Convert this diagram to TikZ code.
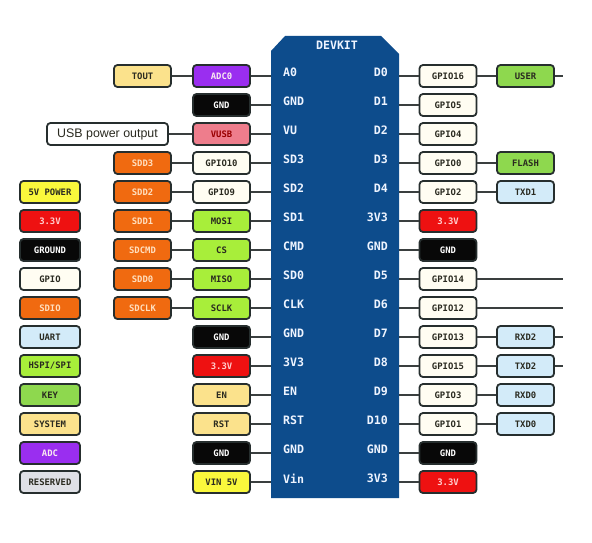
\documentclass[tikz,border=0pt]{standalone}
\usepackage{fontspec}
\newfontfamily\monof{DejaVu Sans Mono}
\newfontfamily\arialf{Liberation Sans}
\definecolor{boardc}{RGB}{13,76,140}
\definecolor{edgec}{HTML}{262E2E}
\definecolor{wirec}{HTML}{3A3F3F}
\definecolor{creamc}{HTML}{FFFDF2}
\definecolor{limec}{HTML}{A8EE3A}
\definecolor{greenc}{HTML}{8ED84E}
\definecolor{bluec}{HTML}{D3EBF9}
\definecolor{sysc}{HTML}{FBE28C}
\definecolor{vinc}{HTML}{FAF83C}
\definecolor{redc}{HTML}{EE1111}
\definecolor{orangec}{HTML}{F06A10}
\definecolor{purplec}{HTML}{9A2EF0}
\definecolor{pinkc}{HTML}{EE7D8C}
\definecolor{grayc}{HTML}{DFE0E6}
\definecolor{blackc}{HTML}{080808}
\definecolor{darkt}{HTML}{2A2A20}
\definecolor{pintext}{HTML}{EEF4FF}
\tikzset{
  box/.style={draw=edgec, line width=1.8pt, rounded corners=3.5pt, minimum width=57pt,
    minimum height=22pt, inner sep=0pt, text=darkt, font=\monof\bfseries\fontsize{8.9}{10}\selectfont},
  pgpio/.style={box, fill=creamc},
  pspi/.style={box, fill=limec},
  pkey/.style={box, fill=greenc},
  puart/.style={box, fill=bluec},
  psys/.style={box, fill=sysc},
  pvin/.style={box, fill=vinc},
  p33/.style={box, fill=redc, text=red!20},
  psdio/.style={box, fill=orangec, text=orange!25},
  padc/.style={box, fill=purplec, text=purple!8},
  pgnd/.style={box, fill=blackc, text=white},
  pusb/.style={box, fill=pinkc, text=red!60!black},
  pres/.style={box, fill=grayc},
  pinlab/.style={text=pintext, inner sep=0pt, font=\monof\bfseries\fontsize{11.6}{13}\selectfont},
  wire/.style={draw=wirec, line width=1.3pt}
}
\begin{document}
\begin{tikzpicture}[x=1pt,y=-1pt]
\useasboundingbox[fill=white] (0,0) rectangle (592,543);
% board
\fill[boardc] (271,51) -- (285,36) -- (381,36) -- (399,54) -- (399,498) -- (271,498) -- cycle;
\node[pinlab] (devkit) at (337,45) {DEVKIT};
\coordinate (bL) at (271,0);
\coordinate (bR) at (399,0);
% board pin labels left
\node[pinlab, anchor=west] (pA0) at (283,72.5) {A0};
\node[pinlab, anchor=west] (pGND1) at (283,101.5) {GND};
\node[pinlab, anchor=west] (pVU) at (283,130.5) {VU};
\node[pinlab, anchor=west] (pSD3) at (283,159.5) {SD3};
\node[pinlab, anchor=west] (pSD2) at (283,188.5) {SD2};
\node[pinlab, anchor=west] (pSD1) at (283,217.5) {SD1};
\node[pinlab, anchor=west] (pCMD) at (283,246.5) {CMD};
\node[pinlab, anchor=west] (pSD0) at (283,275.5) {SD0};
\node[pinlab, anchor=west] (pCLK) at (283,304.5) {CLK};
\node[pinlab, anchor=west] (pGND2) at (283,333.5) {GND};
\node[pinlab, anchor=west] (p3V3a) at (283,362.5) {3V3};
\node[pinlab, anchor=west] (pEN) at (283,391.5) {EN};
\node[pinlab, anchor=west] (pRST) at (283,420.5) {RST};
\node[pinlab, anchor=west] (pGND3) at (283,449.5) {GND};
\node[pinlab, anchor=west] (pVin) at (283,478.5) {Vin};
% board pin labels right
\node[pinlab, anchor=east] (pD0) at (388,72.5) {D0};
\node[pinlab, anchor=east] (pD1) at (388,101.5) {D1};
\node[pinlab, anchor=east] (pD2) at (388,130.5) {D2};
\node[pinlab, anchor=east] (pD3) at (388,159.5) {D3};
\node[pinlab, anchor=east] (pD4) at (388,188.5) {D4};
\node[pinlab, anchor=east] (p3V3b) at (388,217.5) {3V3};
\node[pinlab, anchor=east] (pGND4) at (388,246.5) {GND};
\node[pinlab, anchor=east] (pD5) at (388,275.5) {D5};
\node[pinlab, anchor=east] (pD6) at (388,304.5) {D6};
\node[pinlab, anchor=east] (pD7) at (388,333.5) {D7};
\node[pinlab, anchor=east] (pD8) at (388,362.5) {D8};
\node[pinlab, anchor=east] (pD9) at (388,391.5) {D9};
\node[pinlab, anchor=east] (pD10) at (388,420.5) {D10};
\node[pinlab, anchor=east] (pGND5) at (388,449.5) {GND};
\node[pinlab, anchor=east] (p3V3c) at (388,478.5) {3V3};
% inner left column
\node[padc] (iA0) at (221.5,76) {ADC0};
\node[pgnd] (iGND1) at (221.5,105) {GND};
\node[pusb] (iVU) at (221.5,134) {VUSB};
\node[pgpio] (iSD3) at (221.5,163) {GPIO10};
\node[pgpio] (iSD2) at (221.5,192) {GPIO9};
\node[pspi] (iSD1) at (221.5,221) {MOSI};
\node[pspi] (iCMD) at (221.5,250) {CS};
\node[pspi] (iSD0) at (221.5,279) {MISO};
\node[pspi] (iCLK) at (221.5,308) {SCLK};
\node[pgnd] (iGND2) at (221.5,337) {GND};
\node[p33] (i3V3) at (221.5,366) {3.3V};
\node[psys] (iEN) at (221.5,395) {EN};
\node[psys] (iRST) at (221.5,424) {RST};
\node[pgnd] (iGND3) at (221.5,453) {GND};
\node[pvin] (iVin) at (221.5,482) {VIN 5V};
% outer left column
\node[psys] (oA0) at (142.5,76) {TOUT};
\node[box, fill=white, minimum width=121pt, font=\arialf\fontsize{12.4}{14}\selectfont] (oVU) at (107.5,134) {USB power output};
\node[psdio] (oSD3) at (142.5,163) {SDD3};
\node[psdio] (oSD2) at (142.5,192) {SDD2};
\node[psdio] (oSD1) at (142.5,221) {SDD1};
\node[psdio] (oCMD) at (142.5,250) {SDCMD};
\node[psdio] (oSD0) at (142.5,279) {SDD0};
\node[psdio] (oCLK) at (142.5,308) {SDCLK};
% legend
\node[box, fill=vinc, minimum width=60pt] (l5v) at (50,192) {5V POWER};
\node[p33, minimum width=60pt] (l33) at (50,221) {3.3V};
\node[pgnd, minimum width=60pt] (lgnd) at (50,250) {GROUND};
\node[pgpio, minimum width=60pt] (lgpio) at (50,279) {GPIO};
\node[psdio, minimum width=60pt] (lsdio) at (50,308) {SDIO};
\node[puart, minimum width=60pt] (luart) at (50,337) {UART};
\node[pspi, minimum width=60pt] (lspi) at (50,366) {HSPI/SPI};
\node[pkey, minimum width=60pt] (lkey) at (50,395) {KEY};
\node[psys, minimum width=60pt] (lsys) at (50,424) {SYSTEM};
\node[padc, minimum width=60pt] (ladc) at (50,453) {ADC};
\node[pres, minimum width=60pt] (lres) at (50,482) {RESERVED};
% right gpio column
\node[pgpio] (rD0) at (448,76) {GPIO16};
\node[pgpio] (rD1) at (448,105) {GPIO5};
\node[pgpio] (rD2) at (448,134) {GPIO4};
\node[pgpio] (rD3) at (448,163) {GPIO0};
\node[pgpio] (rD4) at (448,192) {GPIO2};
\node[p33] (r3V3b) at (448,221) {3.3V};
\node[pgnd] (rGND4) at (448,250) {GND};
\node[pgpio] (rD5) at (448,279) {GPIO14};
\node[pgpio] (rD6) at (448,308) {GPIO12};
\node[pgpio] (rD7) at (448,337) {GPIO13};
\node[pgpio] (rD8) at (448,366) {GPIO15};
\node[pgpio] (rD9) at (448,395) {GPIO3};
\node[pgpio] (rD10) at (448,424) {GPIO1};
\node[pgnd] (rGND5) at (448,453) {GND};
\node[p33] (r3V3c) at (448,482) {3.3V};
% outer right column
\node[pkey] (oD0) at (525.5,76) {USER};
\node[pkey] (oD3) at (525.5,163) {FLASH};
\node[puart] (oD4) at (525.5,192) {TXD1};
\node[puart] (oD7) at (525.5,337) {RXD2};
\node[puart] (oD8) at (525.5,366) {TXD2};
\node[puart] (oD9) at (525.5,395) {RXD0};
\node[puart] (oD10) at (525.5,424) {TXD0};
% free ends
\coordinate (eD0) at (563,76);
\coordinate (eD5) at (563,279);
\coordinate (eD6) at (563,308);
\coordinate (eD7) at (563,337);
\coordinate (eD8) at (563,366);
% wires left: inner to board
\foreach \n in {iA0,iGND1,iVU,iSD3,iSD2,iSD1,iCMD,iSD0,iCLK,iGND2,i3V3,iEN,iRST,iGND3,iVin}
  \draw[wire] (\n.east) -- (\n.east -| bL);
% wires left: outer to inner
\draw[wire] (oA0) -- (iA0);
\draw[wire] (oVU) -- (iVU);
\draw[wire] (oSD3) -- (iSD3);
\draw[wire] (oSD2) -- (iSD2);
\draw[wire] (oSD1) -- (iSD1);
\draw[wire] (oCMD) -- (iCMD);
\draw[wire] (oSD0) -- (iSD0);
\draw[wire] (oCLK) -- (iCLK);
% wires right: board to gpio
\foreach \n in {rD0,rD1,rD2,rD3,rD4,r3V3b,rGND4,rD5,rD6,rD7,rD8,rD9,rD10,rGND5,r3V3c}
  \draw[wire] (\n.west -| bR) -- (\n.west);
\draw[wire] (rD0) -- (oD0);
\draw[wire] (rD3) -- (oD3);
\draw[wire] (rD4) -- (oD4);
\draw[wire] (rD7) -- (oD7);
\draw[wire] (rD8) -- (oD8);
\draw[wire] (rD9) -- (oD9);
\draw[wire] (rD10) -- (oD10);
\draw[wire] (oD0.east) -- (eD0);
\draw[wire] (rD5.east) -- (eD5);
\draw[wire] (rD6.east) -- (eD6);
\draw[wire] (oD7.east) -- (eD7);
\draw[wire] (oD8.east) -- (eD8);
\end{tikzpicture}
\end{document}
